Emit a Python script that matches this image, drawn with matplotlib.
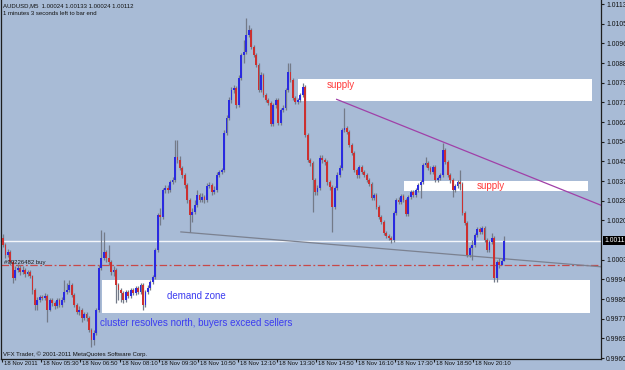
import matplotlib
matplotlib.use('Agg')
import matplotlib.pyplot as plt
import matplotlib.transforms as mtrans
from matplotlib import font_manager
from matplotlib.patches import Rectangle
import pandas as pd

# ---------------- data (AUDUSD, M5, 18 Nov 2011) ----------------
symbol = 'AUDUSD,M5'
first_time = '2011-11-18 04:10'
first_open = 1.00124

close = [
    1.00094, 1.00050, 1.00063, 1.00020, 0.99951, 0.99986, 0.99994, 0.99977, 0.99986, 0.99968,
    0.99977, 0.99960, 0.99899, 0.99834, 0.99856, 0.99869, 0.99865, 0.99873, 0.99813, 0.99856,
    0.99843, 0.99830, 0.99856, 0.99834, 0.99856, 0.99891, 0.99899, 0.99921, 0.99878, 0.99834,
    0.99804, 0.99813, 0.99778, 0.99795, 0.99778, 0.99726, 0.99683, 0.99713, 0.99813, 0.99994,
    1.00037, 1.00063, 1.00037, 1.00020, 0.99977, 0.99986, 0.99921, 0.99899, 0.99886, 0.99856,
    0.99891, 0.99873, 0.99899, 0.99886, 0.99908, 0.99891, 0.99921, 0.99834, 0.99891, 0.99908,
    0.99934, 0.99955, 1.00072, 1.00223, 1.00215, 1.00331, 1.00340, 1.00331, 1.00366, 1.00374,
    1.00474, 1.00461, 1.00426, 1.00396, 1.00353, 1.00288, 1.00223, 1.00236, 1.00266, 1.00310,
    1.00288, 1.00301, 1.00288, 1.00348, 1.00353, 1.00323, 1.00331, 1.00396, 1.00409, 1.00418,
    1.00577, 1.00642, 1.00720, 1.00763, 1.00772, 1.00698, 1.00815, 1.00914, 1.00927, 1.01001,
    1.01022, 1.00949, 1.00914, 1.00871, 1.00763, 1.00828, 1.00742, 1.00720, 1.00707, 1.00616,
    1.00698, 1.00720, 1.00621, 1.00677, 1.00685, 1.00763, 1.00841, 1.00806, 1.00729, 1.00711,
    1.00720, 1.00742, 1.00776, 1.00569, 1.00461, 1.00448, 1.00374, 1.00323, 1.00340, 1.00469,
    1.00461, 1.00452, 1.00366, 1.00344, 1.00258, 1.00340, 1.00396, 1.00426, 1.00590, 1.00599,
    1.00582, 1.00526, 1.00491, 1.00418, 1.00396, 1.00431, 1.00409, 1.00396, 1.00374, 1.00357,
    1.00297, 1.00310, 1.00258, 1.00215, 1.00193, 1.00145, 1.00132, 1.00124, 1.00115, 1.00232,
    1.00288, 1.00279, 1.00305, 1.00288, 1.00227, 1.00301, 1.00323, 1.00310, 1.00331, 1.00353,
    1.00366, 1.00439, 1.00448, 1.00426, 1.00409, 1.00431, 1.00374, 1.00383, 1.00396, 1.00504,
    1.00452, 1.00396, 1.00374, 1.00331, 1.00348, 1.00366, 1.00357, 1.00232, 1.00189, 1.00050,
    1.00081, 1.00094, 1.00137, 1.00163, 1.00150, 1.00167, 1.00115, 1.00072, 1.00107, 1.00124,
    0.99951, 1.00020, 1.00007, 1.00024, 1.00112,
]

high = [
    1.00141, 1.00102, 1.00076, 1.00072, 1.00029, 1.00003, 1.00011, 1.00007, 1.00003, 0.99994,
    0.99986, 0.99986, 0.99964, 0.99908, 0.99869, 0.99878, 0.99878, 0.99886, 0.99882, 0.99865,
    0.99865, 0.99852, 0.99865, 0.99865, 0.99869, 0.99942, 0.99929, 0.99942, 0.99929, 0.99886,
    0.99843, 0.99830, 0.99821, 0.99804, 0.99804, 0.99787, 0.99735, 0.99726, 0.99821, 1.00007,
    1.00158, 1.00150, 1.00072, 1.00094, 1.00029, 1.00003, 0.99994, 0.99929, 0.99908, 0.99895,
    0.99899, 0.99899, 0.99908, 0.99908, 0.99916, 0.99916, 0.99929, 0.99929, 0.99899, 0.99921,
    0.99942, 0.99964, 1.00081, 1.00232, 1.00253, 1.00340, 1.00353, 1.00353, 1.00374, 1.00387,
    1.00547, 1.00547, 1.00478, 1.00435, 1.00405, 1.00361, 1.00297, 1.00253, 1.00288, 1.00331,
    1.00318, 1.00318, 1.00310, 1.00361, 1.00366, 1.00361, 1.00348, 1.00409, 1.00418, 1.00426,
    1.00590, 1.00655, 1.00733, 1.00776, 1.00785, 1.00780, 1.00828, 1.00923, 1.00979, 1.01074,
    1.01044, 1.01031, 1.00958, 1.00923, 1.00880, 1.00841, 1.00837, 1.00750, 1.00729, 1.00716,
    1.00707, 1.00729, 1.00729, 1.00685, 1.00698, 1.00772, 1.00880, 1.00880, 1.00815, 1.00737,
    1.00729, 1.00750, 1.00793, 1.00785, 1.00577, 1.00469, 1.00456, 1.00383, 1.00353, 1.00482,
    1.00482, 1.00469, 1.00461, 1.00374, 1.00353, 1.00348, 1.00409, 1.00439, 1.00599, 1.00685,
    1.00608, 1.00590, 1.00534, 1.00500, 1.00426, 1.00439, 1.00439, 1.00418, 1.00405, 1.00383,
    1.00366, 1.00318, 1.00318, 1.00266, 1.00223, 1.00202, 1.00154, 1.00141, 1.00132, 1.00241,
    1.00297, 1.00301, 1.00314, 1.00314, 1.00297, 1.00310, 1.00331, 1.00331, 1.00340, 1.00361,
    1.00374, 1.00448, 1.00474, 1.00456, 1.00435, 1.00439, 1.00439, 1.00392, 1.00405, 1.00534,
    1.00513, 1.00461, 1.00405, 1.00383, 1.00357, 1.00374, 1.00418, 1.00366, 1.00241, 1.00197,
    1.00089, 1.00115, 1.00145, 1.00171, 1.00171, 1.00176, 1.00176, 1.00124, 1.00115, 1.00145,
    1.00132, 1.00029, 1.00037, 1.00037, 1.00133,
]

low = [
    1.00085, 1.00037, 1.00042, 1.00007, 0.99929, 0.99942, 0.99977, 0.99964, 0.99968, 0.99955,
    0.99960, 0.99951, 0.99882, 0.99813, 0.99813, 0.99847, 0.99856, 0.99856, 0.99761, 0.99808,
    0.99830, 0.99817, 0.99821, 0.99826, 0.99826, 0.99847, 0.99882, 0.99891, 0.99869, 0.99826,
    0.99795, 0.99791, 0.99761, 0.99770, 0.99765, 0.99718, 0.99653, 0.99662, 0.99705, 0.99804,
    0.99986, 1.00029, 1.00020, 1.00007, 0.99964, 0.99960, 0.99843, 0.99856, 0.99847, 0.99843,
    0.99847, 0.99865, 0.99865, 0.99878, 0.99878, 0.99882, 0.99882, 0.99813, 0.99826, 0.99882,
    0.99899, 0.99925, 0.99947, 1.00063, 1.00180, 1.00206, 1.00318, 1.00318, 1.00323, 1.00357,
    1.00366, 1.00448, 1.00418, 1.00383, 1.00340, 1.00275, 1.00150, 1.00193, 1.00227, 1.00258,
    1.00279, 1.00279, 1.00275, 1.00279, 1.00340, 1.00310, 1.00314, 1.00323, 1.00387, 1.00400,
    1.00409, 1.00569, 1.00634, 1.00707, 1.00750, 1.00685, 1.00690, 1.00806, 1.00880, 1.00919,
    1.00992, 1.00940, 1.00906, 1.00863, 1.00755, 1.00755, 1.00733, 1.00711, 1.00698, 1.00608,
    1.00608, 1.00685, 1.00612, 1.00612, 1.00668, 1.00677, 1.00755, 1.00798, 1.00720, 1.00703,
    1.00703, 1.00711, 1.00733, 1.00560, 1.00452, 1.00435, 1.00236, 1.00310, 1.00310, 1.00331,
    1.00448, 1.00439, 1.00353, 1.00331, 1.00150, 1.00249, 1.00331, 1.00387, 1.00418, 1.00582,
    1.00573, 1.00517, 1.00482, 1.00409, 1.00383, 1.00383, 1.00400, 1.00387, 1.00366, 1.00348,
    1.00288, 1.00288, 1.00249, 1.00206, 1.00184, 1.00137, 1.00124, 1.00115, 1.00102, 1.00107,
    1.00223, 1.00271, 1.00271, 1.00279, 1.00219, 1.00219, 1.00292, 1.00301, 1.00301, 1.00323,
    1.00297, 1.00357, 1.00431, 1.00418, 1.00400, 1.00400, 1.00366, 1.00366, 1.00374, 1.00387,
    1.00443, 1.00387, 1.00361, 1.00301, 1.00323, 1.00340, 1.00331, 1.00223, 1.00180, 1.00042,
    1.00042, 1.00029, 1.00085, 1.00128, 1.00141, 1.00141, 1.00107, 1.00063, 1.00063, 1.00098,
    0.99934, 0.99934, 0.99994, 1.00007, 1.00024,
]

price_levels = [1.01135, 1.01050, 1.00965, 1.00880, 1.00795, 1.00710, 1.00625, 1.00540,
                1.00455, 1.00370, 1.00285, 1.00200, 1.00030, 0.99945, 0.99860, 0.99775,
                0.99690, 0.99605]
time_labels = ['04:10', '05:30', '06:50', '08:10', '09:30', '10:50', '12:10',
               '13:30', '14:50', '16:10', '17:30', '18:50', '20:10']

current_price = 1.00112
order_price = 1.00005
order_label = '#90226482 buy'

# zones: (bar_start, bar_end, price_low, price_high, label)
zone_supply_1 = (120.1, 239.7, 1.00716, 1.00811, 'supply')
zone_supply_2 = (163.2, 238.1, 1.00327, 1.00370, 'supply')
zone_demand = (40.3, 238.9, 0.99800, 0.99942, 'demand zone')
note_text = 'cluster resolves north, buyers exceed sellers'

# trend lines: two anchor points (bar, price), extended to the right
trend_gray = [(72.4, 1.00150), (204.0, 1.00034)]
trend_purple = [(135.8, 1.00723), (194.1, 1.00475)]

# ---------------- styling ----------------
BG = '#a8bbd6'
BULL = '#2a2ae0'
BEAR = '#cc3030'
WICK = '#737a88'
AXC = '#1e1e1e'

names = {f.name for f in font_manager.fontManager.ttflist}
if 'Liberation Sans Narrow' in names:
    SMALL_FAMILY = ['Liberation Sans Narrow', 'DejaVu Sans']
    SMALL = 5.0
    YSIZE = 5.6
else:
    SMALL_FAMILY = ['Liberation Sans', 'DejaVu Sans']
    SMALL = 4.3
    YSIZE = 4.9
LABEL_FAMILY = ['Liberation Sans', 'DejaVu Sans']

W, H = 625, 370
fig = plt.figure(figsize=(W / 100, H / 100), dpi=100)
fig.patch.set_facecolor(BG)
ax = fig.add_axes([1 / W, 11 / H, 600 / W, 359 / H])
ax.set_facecolor(BG)

n = len(close)
idx = list(range(n))
opens = [first_open] + close[:-1]
hi = [max(h, o, c) for h, o, c in zip(high, opens, close)]
lo = [min(l, o, c) for l, o, c in zip(low, opens, close)]

ax.set_xlim(-0.81, 243.4)
ax.set_ylim(0.996008, 1.011523)

# zones
for (x0, x1, p0, p1, lab) in [zone_supply_1, zone_supply_2, zone_demand]:
    ax.add_patch(Rectangle((x0, p0), x1 - x0, p1 - p0, facecolor='white',
                           edgecolor='none', zorder=1))

# horizontal lines
ax.axhline(current_price, color='#f4f6fa', lw=1.0, zorder=2)
ax.axhline(order_price, color='#c84848', lw=0.9, linestyle=(0, (6, 2, 1.5, 2)), zorder=2)

# trend lines
xr = ax.get_xlim()[1]
for pts, col in [(trend_gray, '#7b8190'), (trend_purple, '#a040a8')]:
    (xa, pa), (xb, pb) = pts
    slope = (pb - pa) / (xb - xa)
    ax.plot([xa, xr], [pa, pa + slope * (xr - xa)], color=col, lw=0.9, zorder=2)

# candles
ax.vlines(idx, lo, hi, color=WICK, lw=0.9, zorder=3)
bottoms = [min(o, c) for o, c in zip(opens, close)]
heights = [max(abs(c - o), 0.000025) for o, c in zip(opens, close)]
colors = [BULL if c >= o else BEAR for o, c in zip(opens, close)]
ax.bar(idx, heights, bottom=bottoms, width=0.75, color=colors, linewidth=0, zorder=4)

# zone / note labels
ax.text(131.9, 1.00785, zone_supply_1[4], color='#ff3a3a', fontsize=7,
        family=LABEL_FAMILY, va='center', ha='left', zorder=5)
ax.text(192.9, 1.00348, zone_supply_2[4], color='#ff3a3a', fontsize=7,
        family=LABEL_FAMILY, va='center', ha='left', zorder=5)
ax.text(66.7, 0.99874, zone_demand[4], color='#3c3cf0', fontsize=7,
        family=LABEL_FAMILY, va='center', ha='left', zorder=5)
ax.text(39.5, 0.99757, note_text, color='#3c3cf0', fontsize=7,
        family=LABEL_FAMILY, va='center', ha='left', zorder=5)
ax.text(0.5, order_price + 0.00012, order_label, color='#1a1a1a', fontsize=SMALL,
        family=SMALL_FAMILY, va='center', ha='left', zorder=5)

# spines
for s in ['left', 'right', 'bottom']:
    ax.spines[s].set_color(AXC)
    ax.spines[s].set_linewidth(0.9)
ax.spines['top'].set_visible(False)

# y axis (right)
ax.yaxis.tick_right()
ax.set_yticks(price_levels)
ax.set_yticklabels([f'{p:.5f}' for p in price_levels], family=SMALL_FAMILY)
ax.tick_params(axis='y', direction='out', length=2.5, width=0.8, color=AXC,
               labelsize=YSIZE, pad=1.2, labelcolor='#111111')
ax.text(1.0 + 3 / 600, current_price, f'{current_price:.5f}', transform=ax.get_yaxis_transform(),
        color='white', fontsize=YSIZE, family=SMALL_FAMILY, va='center', ha='left',
        bbox=dict(facecolor='black', edgecolor='none', pad=0.8), clip_on=False, zorder=6)

# x axis (time)
bar_times = pd.date_range(first_time, periods=n, freq='5min')
hhmm = list(bar_times.strftime('%H:%M'))
tick_pos = [hhmm.index(t) - 0.5 for t in time_labels]
tick_txt = ['18 Nov 2011'] + [f'18 Nov {t}' for t in time_labels[1:]]
ax.set_xticks(tick_pos)
ax.set_xticklabels(tick_txt, ha='left', family=SMALL_FAMILY)
ax.tick_params(axis='x', direction='out', length=2.5, width=0.8, color=AXC,
               labelsize=SMALL, pad=-1.2, labelcolor='#111111')
offset = mtrans.ScaledTranslation(2 / 100, 0, fig.dpi_scale_trans)
for lbl in ax.get_xticklabels():
    lbl.set_transform(lbl.get_transform() + offset)

# header / footer text
fig.text(3 / W, 1 - 6 / H, f'{symbol}  1.00024 1.00133 1.00024 1.00112', fontsize=SMALL,
         family=SMALL_FAMILY, color='#111111', va='center', ha='left')
fig.text(3 / W, 1 - 13.5 / H, '1 minutes 3 seconds left to bar end', fontsize=SMALL,
         family=SMALL_FAMILY, color='#111111', va='center', ha='left')
fig.text(3 / W, 1 - 354 / H, 'VFX Trader, \u00a9 2001-2011 MetaQuotes Software Corp.',
         fontsize=SMALL, family=SMALL_FAMILY, color='#111111', va='center', ha='left')

fig.savefig('out.png', dpi=100, facecolor=BG)
